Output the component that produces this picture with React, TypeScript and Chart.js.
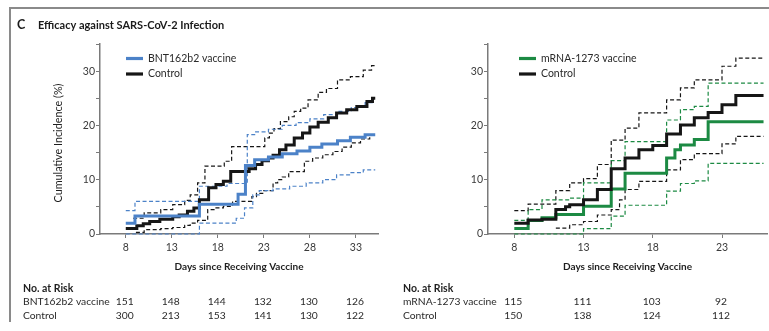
import React, { useEffect, useRef } from "react";
import { Chart, registerables } from "chart.js";

Chart.register(...registerables);

// ---- BNT162b2 panel: cumulative incidence (%) by day, step changes ----
const bntVaccineDays = [8, 9, 16, 20.2, 21, 22, 23.5, 25, 26.6, 28, 29.3, 31, 32.4, 34];
const bntVaccineCum = [2.0, 3.3, 5.5, 7.3, 12.6, 13.7, 14.2, 14.8, 15.3, 16.0, 16.6, 17.2, 17.8, 18.3];
const bntVaccineLowerDays = [8, 16, 20, 20.9, 21.8, 22.5, 24, 25.8, 27.6, 29.4, 30.9, 32.4, 33.8];
const bntVaccineLower = [0, 2.0, 2.9, 4.8, 7.2, 8.0, 8.3, 8.8, 9.4, 10.0, 10.9, 11.3, 11.8];
const bntVaccineUpperDays = [8, 9, 16, 19, 21.2, 22, 23.5, 25, 26.5, 28, 29.5, 31, 32.5, 34];
const bntVaccineUpper = [4.3, 6.0, 8.8, 9.3, 18.3, 18.8, 19.3, 20.0, 20.5, 21.2, 22.0, 22.6, 23.3, 24.2];

const bntControlDays = [8, 9.2, 9.9, 10.6, 11.7, 13.1, 13.8, 14.7, 15.4, 16, 17, 17.8, 18.6, 19.4, 21.4, 22.1, 22.8, 23.5, 24, 24.7, 25.4, 26.3, 27.2, 28, 28.9, 30, 30.9, 32, 33.1, 34.2, 34.8];
const bntControlCum = [1.0, 1.5, 1.9, 2.3, 2.7, 3.2, 3.5, 4.2, 4.8, 6.3, 8.5, 9.1, 9.7, 11.5, 12.0, 12.8, 13.5, 14.0, 14.5, 15.5, 16.4, 17.7, 18.6, 19.7, 20.6, 21.4, 22.3, 22.9, 23.5, 24.4, 25.0];
const bntControlLowerDays = [9.1, 10, 11.8, 13.1, 14.4, 15, 15.8, 16.9, 17.8, 18.6, 19.6, 21.7, 22.2, 23, 24, 24.5, 25, 25.7, 27.4, 28.3, 29.4, 30.5, 31.5, 32.5, 33.5, 34.5];
const bntControlLower = [0.3, 0.8, 1.0, 1.2, 1.6, 2.0, 2.5, 4.5, 4.8, 5.1, 6.0, 6.9, 7.5, 8.0, 9.4, 10.0, 10.5, 11.5, 13.4, 14.0, 14.6, 15.2, 16.0, 16.8, 17.5, 18.2];
const bntControlUpperDays = [8.8, 10, 11.8, 13.1, 14.4, 15, 15.8, 16.6, 18.7, 19.5, 23.1, 23.6, 24.1, 24.8, 25.7, 26.3, 27, 27.8, 28.9, 29.8, 31, 32.4, 33.8, 34.7];
const bntControlUpper = [2.9, 3.9, 4.5, 5.4, 6.2, 7.2, 9.4, 12.5, 13.4, 16.1, 17.7, 18.6, 19.4, 20.7, 21.6, 22.6, 23.2, 24.7, 26.1, 26.8, 28.4, 29.0, 30.2, 31.0];

const bntLastDay = 35.1;
const bntRiskDays = [8, 13, 18, 23, 28, 33];
const bntVaccineRisk = [151, 148, 144, 132, 130, 126];
const bntControlRisk = [300, 213, 153, 141, 130, 122];

// ---- mRNA-1273 panel ----
const mrnaVaccineDays = [8, 9, 10, 11, 13, 15, 16, 19, 19.6, 20, 21, 22];
const mrnaVaccineCum = [1.0, 2.5, 3.0, 3.6, 5.1, 8.3, 11.2, 14.0, 15.5, 16.4, 17.4, 20.7];
const mrnaVaccineLowerDays = [8, 13, 15, 16, 19, 20, 21, 22];
const mrnaVaccineLower = [0, 1.0, 3.3, 5.3, 7.9, 9.3, 9.8, 13.0];
const mrnaVaccineUpperDays = [8, 9, 10, 12, 13, 15, 16, 19, 20, 21, 22];
const mrnaVaccineUpper = [2.5, 4.5, 6.3, 6.6, 9.4, 13.5, 17.0, 21.0, 22.9, 23.5, 27.8];

const mrnaControlDays = [8, 9, 10, 11, 11.7, 12, 13, 14, 15, 16, 17, 18, 19, 20, 21, 22, 23, 24];
const mrnaControlCum = [2.0, 2.6, 2.7, 4.5, 5.0, 5.4, 6.3, 8.2, 12.0, 14.0, 15.5, 16.3, 18.4, 20.1, 21.4, 22.4, 23.8, 25.5];
const mrnaControlLowerDays = [11, 12, 13, 14, 15, 15.6, 16, 17, 19, 20, 21, 23, 24];
const mrnaControlLower = [1.1, 1.7, 2.3, 3.5, 4.5, 6.3, 8.2, 9.7, 11.8, 13.7, 14.8, 16.6, 18.0];
const mrnaControlUpperDays = [8, 9, 11, 12, 13, 14, 15, 16, 17, 19, 20, 21, 23, 24];
const mrnaControlUpper = [4.3, 5.5, 8.0, 9.4, 10.2, 12.8, 17.3, 19.5, 22.3, 24.7, 26.9, 28.4, 30.9, 32.4];

const mrnaLastDay = 26.0;
const mrnaRiskDays = [8, 13, 18, 23];
const mrnaVaccineRisk = [115, 111, 103, 92];
const mrnaControlRisk = [150, 138, 124, 112];

const yTickValues = [0, 5, 10, 15, 20, 25, 30, 35];
const bntXTicks = [8, 13, 18, 23, 28, 33];
const mrnaXTicks = [8, 13, 18, 23];

const BLUE = "#4c82c8";
const GREEN = "#1c8a43";
const BLACK = "#161616";
const AXIS = "#7a7a7a";
const TEXT = "#2a2a2a";
const FONT = "Lato, 'Open Sans', sans-serif";

type Curve = { days: number[]; values: number[]; color: string; dashed: boolean; order: number };

function toSteps(days: number[], values: number[], lastDay: number) {
  const pts = days.map((d, i) => ({ x: d, y: values[i] }));
  pts.push({ x: lastDay, y: values[values.length - 1] });
  return pts;
}

type PanelProps = {
  left: number;
  width: number;
  curves: Curve[];
  lastDay: number;
  xMin: number;
  xMax: number;
  xTicks: number[];
  padLeft: number;
  padRight: number;
  vaccineLabel: string;
  vaccineColor: string;
  legendX: number;
  riskDays: number[];
  vaccineRisk: number[];
  controlRisk: number[];
  riskLabelX: number;
  withYTitle: boolean;
  withHeading: boolean;
};

function Panel(p: PanelProps) {
  const ref = useRef<HTMLCanvasElement>(null);

  useEffect(() => {
    const overlay = {
      id: "panelText",
      afterDraw(chart: any) {
        const ctx = chart.ctx as CanvasRenderingContext2D;
        const ca = chart.chartArea;
        const xs = chart.scales.x;
        ctx.save();

        if (p.withHeading) {
          ctx.fillStyle = "#1a1a1a";
          ctx.textBaseline = "middle";
          ctx.textAlign = "left";
          ctx.font = `bold 12.5px ${FONT}`;
          ctx.fillText("C", 17, 25);
          ctx.font = `bold 11px ${FONT}`;
          ctx.fillText("Efficacy against SARS-CoV-2 Infection", 38, 25);
        }

        // legend
        const rows: [string, string][] = [
          [p.vaccineLabel, p.vaccineColor],
          ["Control", BLACK],
        ];
        rows.forEach(([label, color], i) => {
          const y = 58.5 + i * 15.5;
          ctx.strokeStyle = color;
          ctx.lineWidth = 3.2;
          ctx.setLineDash([]);
          ctx.beginPath();
          ctx.moveTo(p.legendX, y);
          ctx.lineTo(p.legendX + 17, y);
          ctx.stroke();
          ctx.fillStyle = TEXT;
          ctx.font = `10.5px ${FONT}`;
          ctx.textAlign = "left";
          ctx.textBaseline = "middle";
          ctx.fillText(label, p.legendX + 22, y);
        });

        // axis titles
        ctx.fillStyle = "#1f1f1f";
        ctx.font = `bold 10px ${FONT}`;
        ctx.textAlign = "center";
        ctx.textBaseline = "middle";
        ctx.fillText("Days since Receiving Vaccine", (ca.left + ca.right) / 2, 267);
        if (p.withYTitle) {
          ctx.save();
          ctx.translate(59, 143);
          ctx.rotate(-Math.PI / 2);
          ctx.font = `10.8px ${FONT}`;
          ctx.fillText("Cumulative Incidence (%)", 0, 0);
          ctx.restore();
        }

        // number at risk
        ctx.textBaseline = "middle";
        ctx.textAlign = "left";
        ctx.font = `bold 10.5px ${FONT}`;
        ctx.fillStyle = "#1f1f1f";
        ctx.fillText("No. at Risk", p.riskLabelX, 288.5);
        ctx.font = `10.3px ${FONT}`;
        ctx.fillStyle = TEXT;
        ctx.fillText(p.vaccineLabel, p.riskLabelX, 301.5);
        ctx.fillText("Control", p.riskLabelX, 315.5);
        ctx.textAlign = "center";
        p.riskDays.forEach((d, i) => {
          const x = xs.getPixelForValue(d) - 1;
          ctx.fillText(String(p.vaccineRisk[i]), x, 301.5);
          ctx.fillText(String(p.controlRisk[i]), x, 315.5);
        });
        ctx.restore();
      },
    };

    const chart = new Chart(ref.current as HTMLCanvasElement, {
      type: "line",
      data: {
        datasets: p.curves.map((c) => ({
          data: toSteps(c.days, c.values, p.lastDay),
          borderColor: c.color,
          borderWidth: c.dashed ? 1.2 : 3,
          borderDash: c.dashed ? [4, 2.5] : [],
          stepped: true,
          pointRadius: 0,
          fill: false,
          order: c.order,
          clip: 4,
        })),
      },
      options: {
        responsive: false,
        animation: false,
        events: [],
        layout: { padding: { left: p.padLeft, right: p.padRight, top: 44, bottom: 67 } },
        plugins: { legend: { display: false }, tooltip: { enabled: false } },
        scales: {
          x: {
            type: "linear",
            min: p.xMin,
            max: p.xMax,
            afterBuildTicks: (s: any) => {
              s.ticks = p.xTicks.map((v) => ({ value: v }));
            },
            afterFit: (s: any) => {
              s.height = 30;
            },
            grid: { drawOnChartArea: false, drawTicks: true, tickLength: 4, color: AXIS, lineWidth: 1 },
            border: { display: true, color: AXIS, width: 1.5 },
            ticks: { color: "#3a3a3a", font: { family: FONT, size: 10.5 }, padding: 3, maxRotation: 0 },
          },
          y: {
            type: "linear",
            min: 0,
            max: 35,
            afterBuildTicks: (s: any) => {
              s.ticks = yTickValues.map((v) => ({ value: v }));
            },
            afterFit: (s: any) => {
              s.width = 40;
            },
            grid: { drawOnChartArea: false, drawTicks: true, tickLength: 4, color: AXIS, lineWidth: 1 },
            border: { display: true, color: AXIS, width: 1.5 },
            ticks: {
              color: "#3a3a3a",
              font: { family: FONT, size: 10.5 },
              padding: 1,
              callback: (v: any) => (Number(v) % 10 === 0 ? String(v) : ""),
            },
          },
        },
      },
      plugins: [overlay],
    });
    return () => chart.destroy();
  }, []);

  return (
    <canvas
      ref={ref}
      width={p.width}
      height={331}
      style={{ position: "absolute", left: p.left, top: 0, width: p.width, height: 331 }}
    />
  );
}

const bntCurves: Curve[] = [
  { days: bntVaccineDays, values: bntVaccineCum, color: BLUE, dashed: false, order: 0 },
  { days: bntControlDays, values: bntControlCum, color: BLACK, dashed: false, order: 1 },
  { days: bntVaccineUpperDays, values: bntVaccineUpper, color: BLUE, dashed: true, order: 2 },
  { days: bntVaccineLowerDays, values: bntVaccineLower, color: BLUE, dashed: true, order: 3 },
  { days: bntControlUpperDays, values: bntControlUpper, color: BLACK, dashed: true, order: 4 },
  { days: bntControlLowerDays, values: bntControlLower, color: BLACK, dashed: true, order: 5 },
];

const mrnaCurves: Curve[] = [
  { days: mrnaControlDays, values: mrnaControlCum, color: BLACK, dashed: false, order: 0 },
  { days: mrnaVaccineDays, values: mrnaVaccineCum, color: GREEN, dashed: false, order: 1 },
  { days: mrnaVaccineUpperDays, values: mrnaVaccineUpper, color: GREEN, dashed: true, order: 2 },
  { days: mrnaVaccineLowerDays, values: mrnaVaccineLower, color: GREEN, dashed: true, order: 3 },
  { days: mrnaControlUpperDays, values: mrnaControlUpper, color: BLACK, dashed: true, order: 4 },
  { days: mrnaControlLowerDays, values: mrnaControlLower, color: BLACK, dashed: true, order: 5 },
];

export default function App() {
  return (
    <div
      style={{
        position: "fixed",
        left: 0,
        top: 0,
        width: 769,
        height: 331,
        background: "#fff",
        overflow: "hidden",
      }}
    >
      <Panel
        left={0}
        width={385}
        curves={bntCurves}
        lastDay={bntLastDay}
        xMin={5.2}
        xMax={35.4}
        xTicks={bntXTicks}
        padLeft={60}
        padRight={7}
        vaccineLabel="BNT162b2 vaccine"
        vaccineColor={BLUE}
        legendX={126}
        riskDays={bntRiskDays}
        vaccineRisk={bntVaccineRisk}
        controlRisk={bntControlRisk}
        riskLabelX={23}
        withYTitle={true}
        withHeading={true}
      />
      <Panel
        left={385}
        width={384}
        curves={mrnaCurves}
        lastDay={mrnaLastDay}
        xMin={6.1}
        xMax={26.25}
        xTicks={mrnaXTicks}
        padLeft={63}
        padRight={2}
        vaccineLabel="mRNA-1273 vaccine"
        vaccineColor={GREEN}
        legendX={134}
        riskDays={mrnaRiskDays}
        vaccineRisk={mrnaVaccineRisk}
        controlRisk={mrnaControlRisk}
        riskLabelX={18}
        withYTitle={false}
        withHeading={false}
      />
      <div style={{ position: "absolute", left: 9, top: 7, width: 760, height: 2, background: "#8a8a8a" }} />
      <div style={{ position: "absolute", left: 9, top: 7, width: 2, height: 315, background: "#8a8a8a" }} />
    </div>
  );
}
